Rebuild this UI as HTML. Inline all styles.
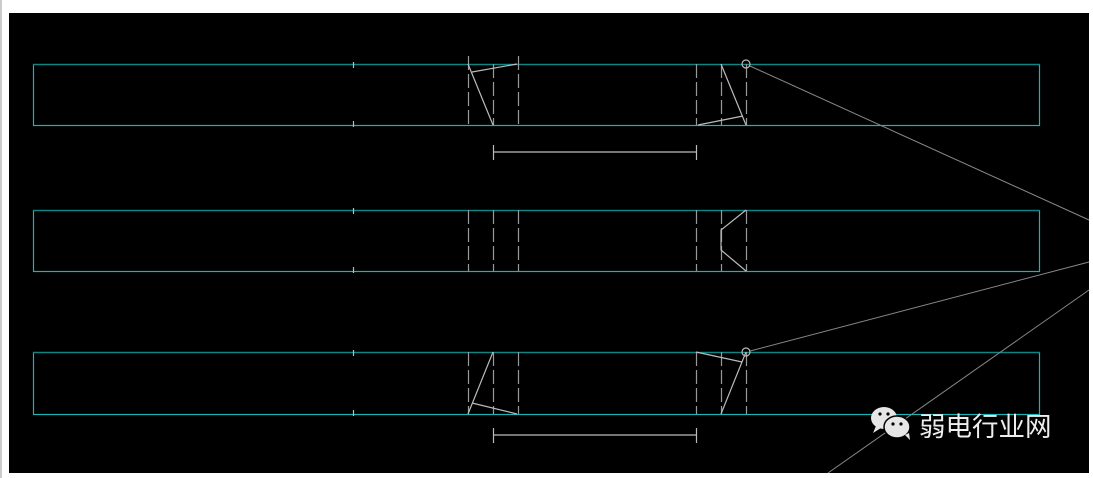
<!DOCTYPE html>
<html><head><meta charset="utf-8"><style>
html,body{margin:0;padding:0;background:#fff;width:1093px;height:478px;overflow:hidden}
svg{position:absolute;left:0;top:0}
.t{font-family:"Liberation Sans","Noto Sans CJK SC",sans-serif;font-size:26.5px;fill:#eee}
</style></head><body>
<svg width="1093" height="478" viewBox="0 0 1093 478">
<rect x="0" y="0" width="2" height="478" fill="#ccc"/>
<rect x="9" y="13" width="1080" height="460" fill="#000"/>
<g fill="none" stroke-width="1.2">
<g stroke="#17b5b5">
<rect x="33.5" y="64.5" width="1006" height="61"/>
<rect x="33.5" y="210.5" width="1006" height="61"/>
<rect x="33.5" y="352.5" width="1006" height="62"/>
</g>
<g stroke="#0e8585"><path d="M33 64.5H1040M33 210.5H1040M33 352.5H1040"/></g>
<g stroke="#999" stroke-dasharray="14,4">
<path d="M468.5 56V125M493.5 64V125M518.5 56V125M696.5 64V125M721.5 64V125M746.5 64V125"/>
<path d="M468.5 210V271M493.5 210V271M518.5 210V271M696.5 210V271M721.5 210V271M746.5 210V271"/>
<path d="M468.5 352V414M493.5 352V414M518.5 352V414M696.5 352V414M721.5 352V414M746.5 352V414"/>
</g>
<g stroke="#bbb">
<path d="M353.5 62v6M353.5 121v6M353.5 208v6M353.5 267v6M353.5 350v6M353.5 410v6"/>
<path d="M468 64L493 125M472 72L517 64M721 64L746 125M698 125L743 116"/>
<path d="M746 210L721 230L721 250L746 271"/>
<path d="M493 352L468 414M472 403L517 414M696 352L742 362M746 352L721 414"/>
<path d="M493 152H696M493.5 145v15M696.5 145v15"/>
<path d="M493 435H696M493.5 428v15M696.5 428v15"/>
<circle cx="746" cy="64" r="4"/>
<circle cx="746" cy="352" r="4"/>
</g>
<g stroke="#888" stroke-width="1">
<path d="M750 66L1089 220M750 351L1089 262M1089 290L828 473"/>
</g>
</g>
<g fill="#e6e6e6">
<ellipse cx="884" cy="418" rx="13" ry="11"/>
<path d="M876 426l-3 7 8-5z"/>
<ellipse cx="897" cy="427" rx="13" ry="11" stroke="#000" stroke-width="1.5"/>
<path d="M905 435l5 5-1-7z"/>
</g>
<g fill="#000"><circle cx="880" cy="414" r="1.6"/><circle cx="888" cy="414" r="1.6"/><circle cx="893" cy="424" r="1.6"/><circle cx="901" cy="424" r="1.6"/></g>
<text class="t" x="919" y="436">弱电行业网</text>
</svg>
</body></html>
